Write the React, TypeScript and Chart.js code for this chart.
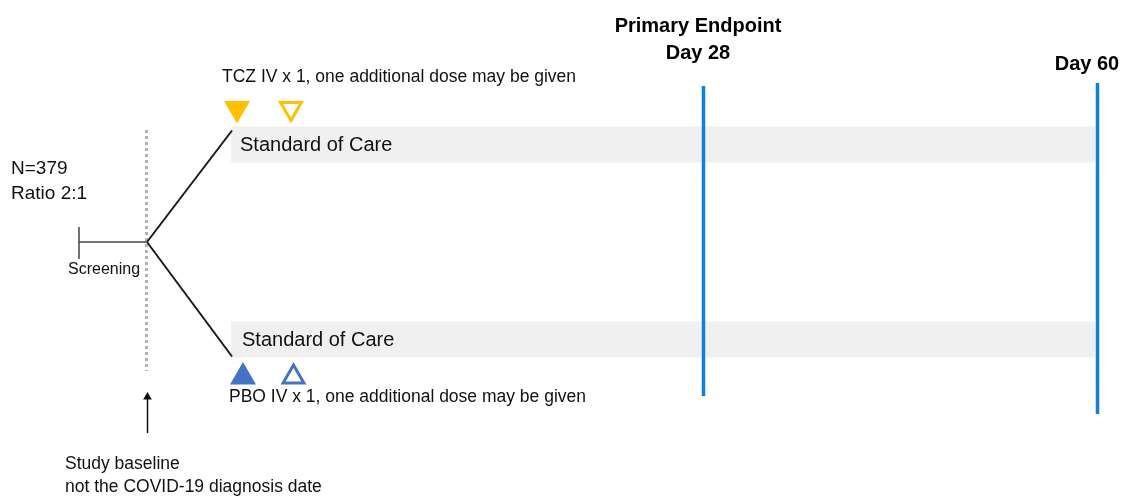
import React, { useEffect, useRef } from "react";
import { Chart, registerables } from "chart.js";

Chart.register(...registerables);

// ---- Study design schematic (diagram units on hidden linear scales) ----
// Milestones (vertical timeline markers)
const milestoneTitles: string[][] = [["Primary Endpoint", "Day 28"], ["Day 60"]];
const milestoneX = [703.5, 1097.5];
const milestoneTop = [86, 83];
const milestoneBottom = [396, 414];
const milestoneTitleX = [698, 1087];
const milestoneTitleY = [26, 64];

// Treatment arms (Standard of Care bands)
const armNames = ["Standard of Care", "Standard of Care"];
const armY = [144.5, 339.5];
const armStart = [231, 231];
const armEnd = [1095, 1095];
const armTextX = [240, 242];

// Doses per arm: first dose (filled) and optional additional dose (outline)
const doseTexts = [
  "TCZ IV x 1, one additional dose may be given",
  "PBO IV x 1, one additional dose may be given",
];
const doseTextX = [222, 229];
const doseTextY = [77, 397];
const doseFirstX = [237, 243];
const doseSecondX = [291, 293.5];
const doseMarkY = [108.5, 377];
const doseColors = ["#FFC000", "#4472C4"];
const doseRotation = [180, 0];

// Randomisation
const randLines = ["N=379", "Ratio 2:1"];
const randLineY = [169, 194];
const baselineX = 146.5;
const branchOrigin = { x: 147, y: 242 };
const screeningStart = 79;
const screeningTick = [227, 259];
const dottedSpan = [130, 371];

// Study baseline arrow & note
const baselineNote = ["Study baseline", "not the COVID-19 diagnosis date"];
const baselineNoteY = [464, 487];
const arrowSpan = [433, 397];

const W = 1123;
const H = 497;

const textPlugin = {
  id: "schematicText",
  afterDraw(chart: any) {
    const { ctx, scales } = chart;
    const px = (v: number) => scales.x.getPixelForValue(v);
    const py = (v: number) => scales.y.getPixelForValue(v);
    const draw = (t: string, x: number, y: number, font: string, align: CanvasTextAlign, color = "#111") => {
      ctx.save();
      ctx.font = font;
      ctx.fillStyle = color;
      ctx.textAlign = align;
      ctx.textBaseline = "middle";
      ctx.fillText(t, px(x), py(y));
      ctx.restore();
    };
    const sans = "'Liberation Sans', Arial, sans-serif";
    // milestone headers
    milestoneTitles.forEach((lines, i) => {
      lines.forEach((l, j) => {
        draw(l, milestoneTitleX[i], milestoneTitleY[i] + j * 27, `bold 20px ${sans}`, "center", "#000");
      });
    });
    // arm labels
    armNames.forEach((n, i) => draw(n, armTextX[i], armY[i] + 0.5, `20px ${sans}`, "left", "#111"));
    // dose texts
    doseTexts.forEach((t, i) => draw(t, doseTextX[i], doseTextY[i], `17.5px ${sans}`, "left", "#111"));
    // randomisation
    randLines.forEach((t, i) => draw(t, 11, randLineY[i], `19px ${sans}`, "left", "#111"));
    draw("Screening", 68, 270, `16px ${sans}`, "left", "#111");
    // baseline note
    baselineNote.forEach((t, i) => draw(t, 65, baselineNoteY[i], `17.5px ${sans}`, "left", "#111"));
  },
};

export default function App() {
  const ref = useRef<HTMLCanvasElement | null>(null);
  useEffect(() => {
    if (!ref.current) return;
    const line = (pts: { x: number; y: number }[], color: string, width: number, extra: any = {}) => ({
      type: "line",
      data: pts,
      showLine: true,
      borderColor: color,
      borderWidth: width,
      pointRadius: 0,
      fill: false,
      tension: 0,
      ...extra,
    });
    const datasets: any[] = [];
    // dose markers (top-most)
    doseColors.forEach((c, i) => {
      datasets.push({
        type: "scatter",
        data: [{ x: doseFirstX[i], y: doseMarkY[i] }],
        pointStyle: "triangle",
        pointRadius: 15,
        rotation: doseRotation[i],
        backgroundColor: c,
        borderColor: c,
        borderWidth: 0,
      });
      datasets.push({
        type: "scatter",
        data: [{ x: doseSecondX[i], y: doseMarkY[i] }],
        pointStyle: "triangle",
        pointRadius: 12,
        rotation: doseRotation[i],
        backgroundColor: "#ffffff",
        borderColor: c,
        borderWidth: 3,
      });
    });
    // baseline arrow
    datasets.push({
      type: "scatter",
      data: [{ x: baselineX + 1, y: arrowSpan[1] }],
      pointStyle: "triangle",
      pointRadius: 5,
      backgroundColor: "#111",
      borderColor: "#111",
      borderWidth: 0,
    });
    datasets.push(line([{ x: baselineX + 1, y: arrowSpan[0] }, { x: baselineX + 1, y: arrowSpan[1] + 2 }], "#111", 1.5));
    // milestone lines
    milestoneX.forEach((x, i) => {
      datasets.push(line([{ x, y: milestoneTop[i] }, { x, y: milestoneBottom[i] }], "#0B80DC", 3.5));
    });
    // randomisation branches
    armY.forEach((y, i) => {
      const endY = i === 0 ? y - 14 : y + 17;
      datasets.push(line([branchOrigin, { x: armStart[i] + 1, y: endY }], "#1a1a1a", 2));
    });
    // screening period
    datasets.push(line([{ x: screeningStart, y: branchOrigin.y }, { x: baselineX, y: branchOrigin.y }], "#444", 1.5));
    datasets.push(line([{ x: screeningStart, y: screeningTick[0] }, { x: screeningStart, y: screeningTick[1] }], "#444", 1.5));
    // baseline dotted line
    datasets.push(line([{ x: baselineX, y: dottedSpan[0] }, { x: baselineX, y: dottedSpan[1] }], "#b3b3b3", 3, { borderDash: [3, 3] }));
    // arm bands (bottom-most)
    armY.forEach((y, i) => {
      datasets.push(line([{ x: armStart[i], y }, { x: armEnd[i], y }], "#f0f0f0", 36, { borderCapStyle: "butt" }));
    });

    const chart = new Chart(ref.current, {
      type: "scatter",
      data: { datasets },
      options: {
        animation: false,
        responsive: false,
        devicePixelRatio: 1,
        events: [],
        layout: { padding: 0, autoPadding: false },
        clip: false as any,
        plugins: { legend: { display: false }, tooltip: { enabled: false }, title: { display: false } },
        scales: {
          x: { type: "linear", min: 0, max: W, display: false },
          y: { type: "linear", min: 0, max: H, reverse: true, display: false },
        },
      },
      plugins: [textPlugin],
    } as any);
    return () => chart.destroy();
  }, []);
  return (
    <div style={{ position: "absolute", left: 0, top: 0, width: W, height: H, background: "#fff" }}>
      <canvas ref={ref} width={W} height={H} style={{ display: "block", width: W, height: H }} />
    </div>
  );
}
